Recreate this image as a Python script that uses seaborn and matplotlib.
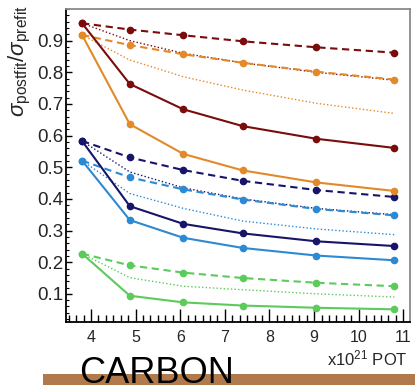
import matplotlib
matplotlib.use("Agg")
import matplotlib.pyplot as plt
import seaborn as sns
import numpy as np
import pandas as pd
from matplotlib.patches import Rectangle
from matplotlib.ticker import MultipleLocator, FixedLocator

# ---------------- data ----------------
x_pot = [3.8, 4.87, 6.07, 7.4, 9.05, 10.8]

darkred_solid = [0.955, 0.763, 0.683, 0.630, 0.590, 0.561]
darkred_dashed = [0.955, 0.935, 0.917, 0.898, 0.879, 0.862]
darkred_dotted = [0.955, 0.900, 0.860, 0.830, 0.800, 0.775]
orange_solid = [0.918, 0.636, 0.542, 0.490, 0.452, 0.425]
orange_dashed = [0.918, 0.886, 0.857, 0.830, 0.802, 0.777]
orange_dotted = [0.918, 0.839, 0.786, 0.744, 0.702, 0.670]
navy_solid = [0.583, 0.377, 0.321, 0.291, 0.266, 0.251]
navy_dashed = [0.583, 0.531, 0.491, 0.457, 0.428, 0.406]
navy_dotted = [0.583, 0.485, 0.435, 0.400, 0.370, 0.350]
blue_solid = [0.521, 0.333, 0.277, 0.245, 0.221, 0.206]
blue_dashed = [0.521, 0.468, 0.430, 0.398, 0.368, 0.348]
blue_dotted = [0.521, 0.417, 0.370, 0.330, 0.305, 0.287]
green_solid = [0.227, 0.094, 0.073, 0.063, 0.056, 0.051]
green_dashed = [0.227, 0.190, 0.167, 0.150, 0.135, 0.124]
green_dotted = [0.227, 0.151, 0.124, 0.113, 0.100, 0.090]

x_ticks = [4, 5, 6, 7, 8, 9, 10, 11]
y_ticks = [0.1, 0.2, 0.3, 0.4, 0.5, 0.6, 0.7, 0.8, 0.9]

colors = {
    "darkred": "#7a0c0c",
    "orange": "#e2892a",
    "navy": "#17146a",
    "blue": "#2b8ad3",
    "green": "#5ccb5c",
}

series = [
    ("darkred", "dotted", darkred_dotted),
    ("orange", "dotted", orange_dotted),
    ("navy", "dotted", navy_dotted),
    ("blue", "dotted", blue_dotted),
    ("green", "dotted", green_dotted),
    ("darkred", "dashed", darkred_dashed),
    ("orange", "dashed", orange_dashed),
    ("navy", "dashed", navy_dashed),
    ("blue", "dashed", blue_dashed),
    ("green", "dashed", green_dashed),
    ("darkred", "solid", darkred_solid),
    ("orange", "solid", orange_solid),
    ("navy", "solid", navy_solid),
    ("blue", "solid", blue_solid),
    ("green", "solid", green_solid),
]

# ---------------- figure ----------------
sns.set_theme(style="white")
plt.rcParams["font.family"] = ["Liberation Sans", "DejaVu Sans"]
plt.rcParams["mathtext.fontset"] = "custom"
plt.rcParams["mathtext.rm"] = "Liberation Sans"
plt.rcParams["mathtext.it"] = "Liberation Sans:italic"
plt.rcParams["mathtext.sf"] = "Liberation Sans"

fig = plt.figure(figsize=(4.15, 3.85), dpi=100)
ax = fig.add_axes([66 / 415, 1 - 322 / 385, (410 - 66) / 415, (322 - 9) / 385])

for cname, kind, vals in series:
    df = pd.DataFrame({"x": x_pot, "y": vals})
    c = colors[cname]
    if kind == "solid":
        sns.lineplot(data=df, x="x", y="y", ax=ax, color=c, lw=1.5,
                     marker="o", markersize=5.5, markeredgewidth=0, zorder=4)
    elif kind == "dashed":
        sns.lineplot(data=df, x="x", y="y", ax=ax, color=c, lw=1.5,
                     linestyle=(0, (3.5, 2.2)),
                     marker="o", markersize=5.5, markeredgewidth=0, zorder=3)
    else:
        sns.lineplot(data=df, x="x", y="y", ax=ax, color=c, lw=1.0,
                     linestyle=(0, (1, 1.6)), zorder=2)

ax.set_xlim(3.44, 11.15)
ax.set_ylim(0.011, 1.0)
ax.xaxis.set_major_locator(FixedLocator(x_ticks))
ax.xaxis.set_minor_locator(MultipleLocator(1 / 6))
ax.yaxis.set_major_locator(FixedLocator(y_ticks))
ax.yaxis.set_minor_locator(MultipleLocator(0.02))
ax.set_xticklabels([str(t) for t in x_ticks])
ax.set_yticklabels([f"{t:.1f}" for t in y_ticks])

ax.tick_params(axis="both", which="both", bottom=True, left=True, top=False, right=False)
ax.tick_params(axis="x", which="major", direction="in", length=9.5, width=1.0,
               labelsize=11.5, pad=6, color="black")
ax.tick_params(axis="x", which="minor", direction="in", length=5, width=1.0, color="black")
ax.tick_params(axis="y", which="major", direction="in", length=4.5, width=1.0,
               labelsize=13.5, pad=2, color="black")
ax.tick_params(axis="y", which="minor", direction="in", length=2.2, width=0.8, color="black")

for side in ["left", "bottom"]:
    ax.spines[side].set_color("black")
    ax.spines[side].set_linewidth(1.3)
for side in ["top", "right"]:
    ax.spines[side].set_color("#8a8a8a")
    ax.spines[side].set_linewidth(1.3)

ax.set_xlabel("")
ax.set_ylabel(r"$\sigma_{\mathrm{postfit}}/\sigma_{\mathrm{prefit}}$", fontsize=16,
              ha="right", va="bottom", labelpad=0)
ax.yaxis.set_label_coords(-0.095, 1.012)

fig.text(408 / 415, 1 - 358 / 385, r"x10$^{21}$ POT", ha="right", va="center",
         fontsize=12)

fig.patches.append(Rectangle((43 / 415, 0), 1, 11 / 385, transform=fig.transFigure,
                             facecolor="#b07a4c", edgecolor="none", zorder=0))
fig.text(79 / 415, 2 / 385, "CARBON", ha="left", va="baseline", fontsize=26,
         color="black", zorder=5)

fig.savefig("out.png", dpi=100)
